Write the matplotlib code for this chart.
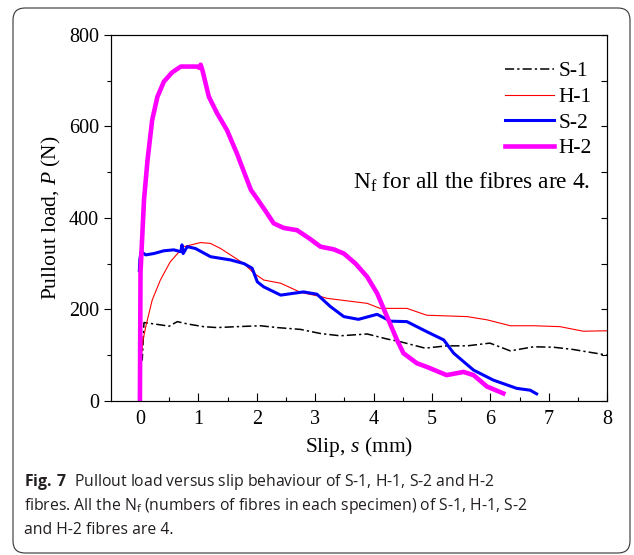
import numpy as np
import matplotlib
matplotlib.use("Agg")
import matplotlib.pyplot as plt
from matplotlib.patches import FancyBboxPatch
from matplotlib.transforms import IdentityTransform

s1_x = [-0.02, 0.0, 0.02, 0.04, 0.07, 0.24, 0.40, 0.50, 0.64, 0.81, 1.09, 1.32, 1.66, 2.06, 2.35,
        2.75, 3.09, 3.43, 3.89, 4.23, 4.46, 4.88, 5.25, 5.60, 5.99, 6.34, 6.74, 7.08, 7.42, 7.65, 7.99]
s1_y = [133, 120, 100, 89, 171, 168, 165, 163, 173, 168, 162, 160, 162, 164, 160,
        156, 147, 142, 146, 135, 129, 115, 120, 120, 126, 109, 118, 117, 112, 107, 100]

h1_x = [0.01, 0.02, 0.05, 0.10, 0.21, 0.35, 0.52, 0.75, 1.04, 1.21, 1.38, 1.55, 1.78, 1.95, 2.12,
        2.41, 2.75, 3.09, 3.20, 3.89, 4.11, 4.57, 4.91, 5.60, 5.94, 6.34, 6.74, 7.19, 7.59, 7.99]
h1_y = [100, 92, 130, 162, 220, 264, 304, 337, 346, 344, 333, 319, 300, 279, 264,
        257, 237, 228, 224, 213, 202, 202, 187, 184, 177, 164, 164, 162, 152, 153]

s2_x = [-0.01, 0.0, 0.02, 0.10, 0.24, 0.41, 0.58, 0.70, 0.72, 0.74, 0.81, 0.95, 1.21, 1.55, 1.78,
        1.92, 2.01, 2.12, 2.41, 2.63, 2.80, 3.03, 3.26, 3.49, 3.74, 4.06, 4.29, 4.57, 4.91, 5.20,
        5.37, 5.71, 6.05, 6.45, 6.68, 6.79]
s2_y = [285, 310, 326, 319, 322, 328, 330, 326, 341, 322, 337, 333, 315, 308, 300,
        290, 260, 249, 231, 235, 238, 233, 206, 184, 178, 189, 174, 173, 151, 133,
        104, 67, 45, 27, 23, 15]

h2_x = [0.0, 0.01, 0.07, 0.13, 0.21, 0.30, 0.41, 0.55, 0.70, 0.85, 0.98, 1.02, 1.04, 1.07, 1.18,
        1.32, 1.49, 1.66, 1.90, 2.00, 2.15, 2.29, 2.46, 2.69, 2.90, 3.09, 3.32, 3.49, 3.69, 3.89,
        4.06, 4.23, 4.40, 4.51, 4.74, 4.91, 5.25, 5.54, 5.71, 5.94, 6.22]
h2_y = [0, 280, 439, 526, 614, 665, 698, 718, 731, 731, 731, 728, 735, 723, 665,
        629, 592, 541, 461, 443, 415, 388, 378, 373, 355, 337, 331, 322, 300, 271,
        235, 184, 133, 104, 82, 74, 56, 63, 56, 31, 16]

plt.rcParams['font.family'] = ['Liberation Serif', 'DejaVu Serif']
plt.rcParams['mathtext.fontset'] = 'custom'
plt.rcParams['mathtext.rm'] = 'Liberation Serif'
plt.rcParams['mathtext.it'] = 'Liberation Serif:italic'
plt.rcParams['mathtext.bf'] = 'Open Sans:bold'
plt.rcParams['mathtext.sf'] = 'Open Sans'

fig = plt.figure(figsize=(6.34, 5.55), dpi=100)
ax = fig.add_axes([0.1746, 0.278, 0.7833, 0.6589])

ax.plot(s1_x, s1_y, color='black', lw=1.1, dashes=(6, 2, 1.5, 2), label='S-1')
ax.plot(h1_x, h1_y, color='#ff0000', lw=0.8, label='H-1')
ax.plot(s2_x, s2_y, color='#0000ff', lw=2.2, label='S-2')
ax.plot(h2_x, h2_y, color='#ff00ff', lw=3.3, label='H-2')

ax.set_xlim(-0.5, 8)
ax.set_ylim(0, 800)
ax.set_xticks(range(0, 9))
ax.set_xticks(np.arange(0.5, 8, 1), minor=True)
ax.set_yticks(range(0, 801, 200))
ax.set_yticks(range(100, 800, 200), minor=True)
ax.tick_params(axis='x', which='major', direction='in', length=6, width=0.8, labelsize=14.5, pad=7)
ax.tick_params(axis='x', which='minor', direction='in', length=3, width=0.8)
ax.tick_params(axis='y', which='major', direction='out', length=5, width=0.8, labelsize=14.5)
ax.tick_params(axis='y', which='minor', direction='out', length=3, width=0.8)
ax.spines['bottom'].set_color('#555555')

twin = ax.twinx()
twin.set_ylim(0, 800)
twin.set_yticks(range(0, 801, 100))
twin.tick_params(axis='y', direction='in', length=4, width=0.8, labelright=False)

ax.set_xlabel('Slip, $s$ (mm)', fontsize=15.5, labelpad=4)
ax.set_ylabel('Pullout load, $P$ (N)', fontsize=15.5, labelpad=4)

ax.legend(loc='upper right', bbox_to_anchor=(0.969, 0.928), frameon=False, fontsize=15.5,
          handlelength=2.25, handletextpad=0.23, labelspacing=0.26, borderaxespad=0, borderpad=0)
ax.text(0.965, 0.598, 'N$_\\mathrm{f}$ for all the fibres are 4.', transform=ax.transAxes,
        ha='right', va='center', fontsize=16.8)

# caption and rounded frame
cap = dict(fontsize=11.3, family='Open Sans', color='#231f20', transform=fig.transFigure)
fig.text(24 / 634, 1 - 486 / 555, '$\\mathbf{Fig.\\ 7}$  Pullout load versus slip behaviour of S-1, H-1, S-2 and H-2', **cap)
fig.text(24 / 634, 1 - 510 / 555, 'fibres. All the N$_\\mathsf{f}$ (numbers of fibres in each specimen) of S-1, H-1, S-2', **cap)
fig.text(24 / 634, 1 - 534 / 555, 'and H-2 fibres are 4.', **cap)

frame = FancyBboxPatch((13, 2), 617, 545, boxstyle='round,pad=0,rounding_size=12',
                       transform=IdentityTransform(), fill=False, ec='#333333', lw=0.8)
fig.patches.append(frame)

fig.savefig('out.png', dpi=100)
